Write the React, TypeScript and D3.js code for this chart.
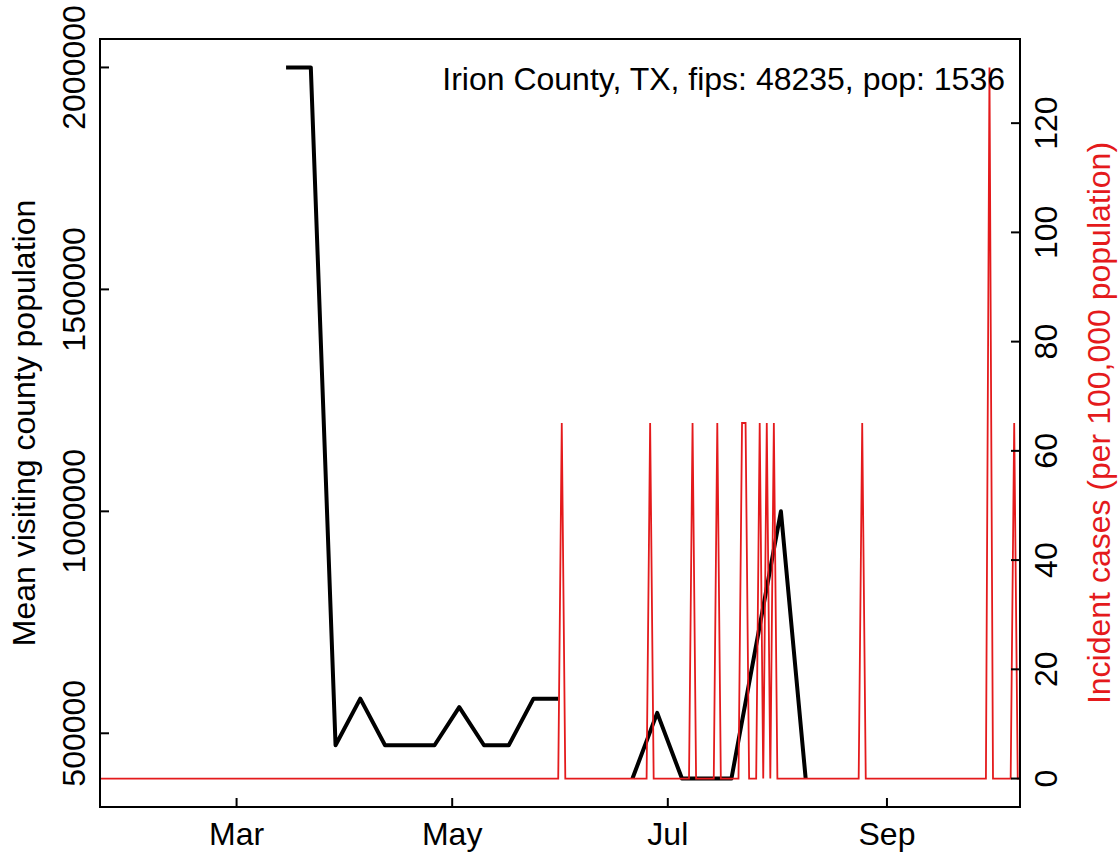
import React from "react";
import * as d3 from "d3";

// weekly mean visiting county population (black line), null = missing week
const visitWeeks = [
  "2020-03-15", "2020-03-22", "2020-03-29", "2020-04-05", "2020-04-12",
  "2020-04-19", "2020-04-26", "2020-05-03", "2020-05-10", "2020-05-17",
  "2020-05-24", "2020-05-31", "2020-06-07", "2020-06-14", "2020-06-21",
  "2020-06-28", "2020-07-05", "2020-07-12", "2020-07-19", "2020-08-02",
  "2020-08-09",
];
const visitPop: (number | null)[] = [
  2000000, 2000000, 473000, 578000, 473000,
  473000, 473000, 559000, 473000, 473000,
  578000, 578000, null, null, 398000,
  546000, 398000, 398000, 398000, 1000000,
  398000,
];

// daily incident cases per 100,000 (red line): zero except these days
const caseStart = "2020-01-22";
const caseEnd = "2020-10-09";
const caseDays = [
  "2020-06-01", "2020-06-26", "2020-07-08", "2020-07-15", "2020-07-22",
  "2020-07-23", "2020-07-27", "2020-07-29", "2020-07-31", "2020-08-25",
  "2020-09-30", "2020-10-07",
];
const caseRates = [
  65.1, 65.1, 65.1, 65.1, 65.1,
  65.1, 65.1, 65.1, 65.1, 65.1,
  130.2, 65.1,
];

// x-range the plot was made for (R pads it by 4%)
const xRangeDates = ["2020-02-01", "2020-09-29"];
const monthTicks = ["2020-03-01", "2020-05-01", "2020-07-01", "2020-09-01"];
const monthLabels = ["Mar", "May", "Jul", "Sep"];
const leftTicks = [500000, 1000000, 1500000, 2000000];
const rightTicks = [0, 20, 40, 60, 80, 100, 120];

const titleText = "Irion County, TX, fips: 48235, pop: 1536";
const leftTitle = "Mean visiting county population";
const rightTitle = "Incident cases (per 100,000 population)";

const parse = d3.utcParse("%Y-%m-%d");
const RED = "#e41a1c";
const FONT = "'Liberation Sans', Arial, Helvetica, sans-serif";
const FS = 32;

const pad = (lo: number, hi: number) => {
  const r = hi - lo;
  return [lo - 0.04 * r, hi + 0.04 * r];
};

const App: React.FC = () => {
  const width = 1119;
  const height = 856;
  const box = { left: 100, right: 1020, top: 39, bottom: 807 };

  const xr = xRangeDates.map((d) => parse(d)!.getTime());
  const xp = pad(xr[0], xr[1]);
  const x = d3
    .scaleUtc()
    .domain([new Date(xp[0]), new Date(xp[1])])
    .range([box.left, box.right]);

  const vVals = visitPop.filter((v): v is number => v !== null);
  const yl = pad(d3.min(vVals)!, d3.max(vVals)!);
  const yLeft = d3.scaleLinear().domain(yl).range([box.bottom, box.top]);

  const yr = pad(0, d3.max(caseRates)!);
  const yRight = d3.scaleLinear().domain(yr).range([box.bottom, box.top]);

  const visitData = visitWeeks.map((d, i) => ({ date: parse(d)!, v: visitPop[i] }));
  const spikeMap = new Map(caseDays.map((d, i) => [d, caseRates[i]]));
  const fmt = d3.utcFormat("%Y-%m-%d");
  const caseData = d3.utcDay
    .range(parse(caseStart)!, d3.utcDay.offset(parse(caseEnd)!, 1))
    .map((d) => ({ date: d, v: spikeMap.get(fmt(d)) ?? 0 }));

  const blackLine = d3
    .line<{ date: Date; v: number | null }>()
    .defined((d) => d.v !== null)
    .x((d) => x(d.date))
    .y((d) => yLeft(d.v as number));

  const redLine = d3
    .line<{ date: Date; v: number }>()
    .x((d) => x(d.date))
    .y((d) => yRight(d.v));

  const tick = 9;

  return (
    <svg
      width={width}
      height={height}
      style={{ position: "absolute", left: 0, top: 0, background: "#fff" }}
      fontFamily={FONT}
      fontSize={FS}
    >
      <defs>
        <clipPath id="plotclip">
          <rect
            x={box.left}
            y={box.top}
            width={box.right - box.left}
            height={box.bottom - box.top}
          />
        </clipPath>
      </defs>
      <rect width={width} height={height} fill="#fff" />

      <g clipPath="url(#plotclip)">
        <path
          d={blackLine(visitData) || ""}
          fill="none"
          stroke="#000"
          strokeWidth={4}
          strokeLinejoin="round"
        />
        <path
          d={redLine(caseData) || ""}
          fill="none"
          stroke={RED}
          strokeWidth={1.8}
          strokeLinejoin="miter"
        />
      </g>

      {/* box */}
      <rect
        x={box.left}
        y={box.top}
        width={box.right - box.left}
        height={box.bottom - box.top}
        fill="none"
        stroke="#000"
        strokeWidth={2}
      />

      {/* bottom axis */}
      {monthTicks.map((m, i) => {
        const xx = x(parse(m)!);
        return (
          <g key={m}>
            <line x1={xx} x2={xx} y1={box.bottom} y2={box.bottom - tick} stroke="#000" strokeWidth={2} />
            <text x={xx} y={845} textAnchor="middle">
              {monthLabels[i]}
            </text>
          </g>
        );
      })}

      {/* left axis */}
      {leftTicks.map((t) => {
        const yy = yLeft(t);
        return (
          <g key={t}>
            <line x1={box.left} x2={box.left + tick} y1={yy} y2={yy} stroke="#000" strokeWidth={2} />
            <text transform={`translate(85,${yy}) rotate(-90)`} textAnchor="middle">
              {t}
            </text>
          </g>
        );
      })}
      <text
        transform={`translate(35,${(box.top + box.bottom) / 2}) rotate(-90)`}
        textAnchor="middle"
      >
        {leftTitle}
      </text>

      {/* right axis */}
      {rightTicks.map((t) => {
        const yy = yRight(t);
        return (
          <g key={t}>
            <line x1={box.right - tick} x2={box.right} y1={yy} y2={yy} stroke="#000" strokeWidth={2} />
            <text transform={`translate(1057,${yy}) rotate(-90)`} textAnchor="middle">
              {t}
            </text>
          </g>
        );
      })}
      <text
        transform={`translate(1110,${(box.top + box.bottom) / 2}) rotate(-90)`}
        textAnchor="middle"
        fill={RED}
      >
        {rightTitle}
      </text>

      <text x={1005} y={90} textAnchor="end">
        {titleText}
      </text>
    </svg>
  );
};

export default App;
